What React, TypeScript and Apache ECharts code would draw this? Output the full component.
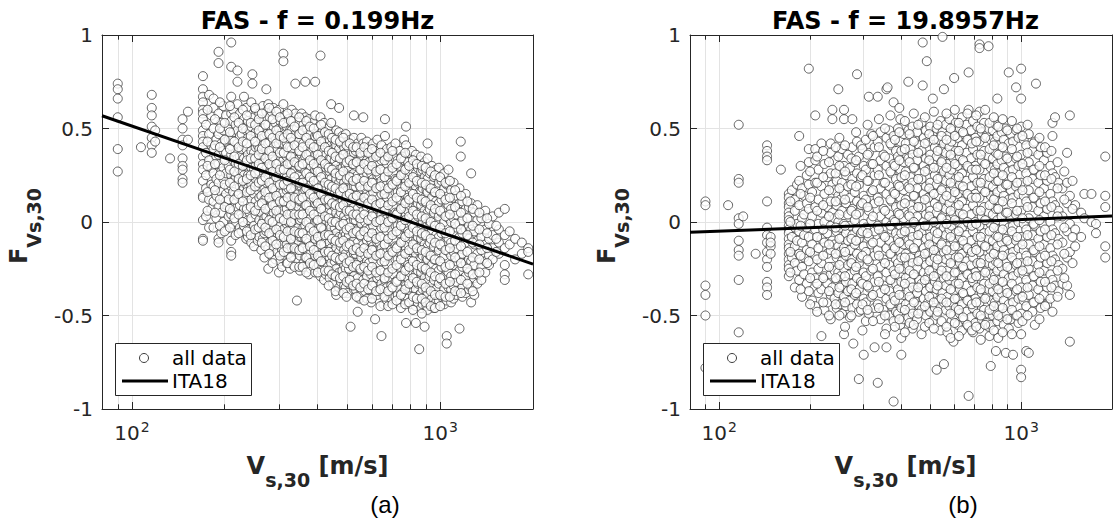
import React, { useEffect, useRef } from "react";
import * as echarts from "echarts";

// ---------- data (Vs in m/s, then F values in hundredths) ----------
const aLow = [
  [90, 74, 71, 66, 56, 39, 27],
  [107, 40],
  [116, 68, 61, 57, 51, 45, 41, 37],
  [119, 49, 43],
  [133, 34],
  [146, 55, 50, 44, 41, 34, 30, 28, 23, 21],
  [152, 59, 44],
  [170, 78, 71, 67, 64, 60, 58, 55, 49, 46, 43, 40, 35, 31, 28, 22, 14, 13, 1, -9, -10],
  [174, 52, 37, 25, 18, 3],
  [178, 68, 47, 33, 12, -3],
  [181, 57, 41, 29, 20, 7],
  [184, 66, 61, 50, 39, 26, 19, 11, -3],
  [188, 44, 35, 23, 14, 2],
  [191, 91, 85, 58, 47, 36, 31, 21, 8, -9, -11],
  [195, 53, 42, 27, 16, 5, -6],
  [198, 62, 49, 38, 29, 23, 13, 0],
];
const aMid1 = [
  [202, 57, 43, 37, 26, 15, 11, -4],
  [206, 50, 44, 30, 18, 12, 3],
  [210, 96, 83, 67, 58, 54, 44, 36, 25, 19, 4, -10, -16, -18],
  [213, 60, 48, 33, 22, 16, 6, -1],
  [217, 52, 37, 31, 24, 10, 0, -7],
  [220, 81, 75, 63, 49, 42, 34, 26, 14, 8],
  [224, 58, 46, 35, 28, 19, 9, -3],
  [227, 47, 39, 26, 21, 13, 2, -5],
  [231, 67, 55, 41, 34, 25, 18, 7, -2],
  [235, 61, 49, 39, 32, 20, 14, 4, -9],
  [238, 54, 45, 36, 25, 18, 10, 1, -8],
  [241, 49, 42, 30, 23, 16, 5, -4],
  [244, 64, 51, 38, 29, 20, 12, 2, -11],
  [246, 79, 74],
  [249, 56, 44, 37, 28, 15, 8, -2, -13],
  [252, 60, 48, 40, 30, 23, 11, 4, -7],
  [256, 53, 41, 33, 26, 17, 6, -4, -10],
  [259, 58, 47, 39, 27, 19, 13, 1, -8],
  [263, 51, 44, 34, 23, 14, 5, -3, -15],
  [266, 62, 50, 41, 31, 20, 9, 0, -9],
  [269, 55, 46, 36, 28, 18, 12, 2, -6, -19],
  [273, 71, 59, 47, 39, 30, 21, 13, 3, -5],
  [277, 63, 52, 42, 33, 23, 16, 6, -2, -14, -25],
  [280, 56, 43, 35, 26, 17, 8, -1, -11],
  [284, 59, 49, 38, 30, 20, 11, 3, -7, -18],
  [288, 61, 51, 40, 32, 22, 14, 5, -4, -13],
  [292, 53, 45, 33, 27, 17, 9, 0, -9, -20],
  [296, 57, 47, 39, 29, 21, 12, 3, -6, -16],
  [300, 60, 50, 42, 32, 24, 15, 6, -3, -12, -27],
  [303, 54, 44, 35, 25, 16, 7, -2, -10, -21],
  [307, 48, 38, 30, 22, 13, 4, -5, -15, -24],
  [310, 90, 86, 63, 52, 42, 33, 24, 16, 6, -4, -12],
  [314, 57, 47, 36, 30, 19, 11, 1, -9, -18],
  [318, 51, 42, 35, 24, 17, 7, -1, -12, -22],
  [322, 55, 46, 36, 28, 18, 10, 0, -8, -17],
  [326, 49, 40, 31, 22, 14, 4, -4, -14, -25],
  [330, 60, 49, 39, 31, 22, 12, 5, -4, -14],
  [334, 54, 43, 33, 26, 16, 7, -2, -11, -23],
  [339, 74, 58, 47, 35, 28, 18, 10, 1, -8, -16],
  [343, 50, 41, 31, 20, 13, 3, -6, -15, -42],
  [347, 53, 43, 34, 25, 15, 8, -3, -10, -21],
  [351, 47, 37, 29, 19, 11, 1, -8, -18, -26],
  [355, 58, 48, 36, 29, 19, 11, 2, -8, -15],
  [360, 52, 42, 33, 23, 16, 6, -3, -13, -22],
  [365, 75, 56, 46, 35, 27, 17, 9, -2, -9, -19],
  [370, 50, 39, 31, 22, 14, 3, -5, -15, -24],
  [375, 55, 47, 36, 27, 17, 9, 0, -11, -20, -28],
  [380, 48, 37, 30, 20, 12, 2, -7, -17, -25],
  [386, 53, 44, 34, 26, 15, 7, -2, -12, -21],
  [393, 75, 57, 46, 36, 28, 18, 10, 0, -9, -18, -27],
  [398, 47, 38, 29, 20, 11, 1, -6, -16, -24],
];
const aMid2 = [
  [404, 51, 40, 33, 22, 15, 5, -3, -14, -23],
  [409, 89, 56, 46, 35, 27, 16, 9, -2, -10, -19, -29],
  [414, 48, 37, 30, 19, 12, 1, -7, -17, -26],
  [420, 53, 44, 32, 25, 15, 7, -4, -12, -22, -31],
  [426, 46, 36, 29, 18, 11, 1, -9, -18, -28],
  [432, 50, 42, 30, 23, 12, 5, -6, -15, -24],
  [438, 44, 34, 27, 17, 9, -1, -11, -19, -30],
  [443, 63, 53, 41, 34, 23, 16, 5, -3, -14, -22],
  [449, 47, 39, 28, 20, 10, 2, -8, -16, -27, -33],
  [455, 43, 33, 26, 15, 8, -3, -11, -21, -29],
  [460, 49, 41, 30, 23, 12, 5, -6, -14, -25, -39],
  [466, 45, 35, 27, 16, 10, -1, -9, -20, -28],
  [470, 61, 48, 39, 28, 21, 10, 3, -8, -16, -27, -35],
  [476, 42, 34, 23, 16, 5, -2, -13, -21, -32],
  [482, 46, 36, 29, 18, 11, 0, -8, -18, -26, -37],
  [488, 40, 32, 21, 14, 3, -5, -15, -23, -34],
  [494, 47, 37, 30, 19, 12, 1, -7, -17, -25, -35],
  [500, 43, 35, 24, 17, 6, -1, -12, -20, -31, -38],
  [506, 39, 29, 22, 11, 4, -7, -14, -25, -33],
  [512, 44, 36, 25, 18, 7, 0, -11, -18, -30, -56],
  [518, 41, 31, 24, 13, 6, -5, -12, -23, -31],
  [525, 57, 45, 37, 26, 19, 8, 1, -10, -17, -29, -36],
  [532, 38, 30, 19, 12, 1, -6, -17, -24, -36],
  [540, 42, 32, 25, 14, 7, -4, -11, -22, -30, -48],
  [547, 39, 31, 20, 13, 2, -5, -16, -23, -35, -41],
  [555, 45, 35, 28, 17, 10, -1, -8, -19, -26, -38],
  [563, 56, 42, 31, 24, 13, 6, -5, -12, -23, -31],
  [571, 37, 29, 18, 11, 0, -7, -18, -25, -37],
  [579, 43, 33, 26, 15, 8, -3, -10, -21, -29, -41],
  [588, 40, 32, 21, 14, 3, -4, -15, -22, -34],
  [597, 36, 26, 19, 8, 1, -10, -17, -28, -36, -43],
  [606, 42, 34, 23, 16, 5, -2, -13, -20, -32],
  [615, 38, 28, 21, 10, 3, -8, -15, -26, -34, -52],
  [625, 44, 36, 25, 18, 7, 0, -11, -18, -30, -39],
  [635, 35, 25, 18, 7, 0, -11, -18, -29, -37],
  [645, 41, 33, 22, 15, 4, -3, -14, -21, -33, -61],
  [655, 37, 27, 20, 9, 2, -9, -16, -27, -35, -44],
  [662, 55, 46, 35, 24, 17, 6, -1, -12, -19, -31],
  [672, 39, 31, 20, 13, 2, -5, -16, -23, -35, -42],
  [683, 34, 24, 17, 6, -1, -12, -19, -30, -38],
  [694, 40, 32, 21, 14, 3, -4, -15, -22, -34, -41],
  [705, 36, 26, 19, 8, 1, -10, -17, -28, -36],
  [716, 42, 34, 23, 16, 5, -2, -13, -20, -32, -40],
  [728, 33, 23, 16, 5, -2, -13, -20, -31, -39],
  [740, 38, 30, 19, 12, 1, -6, -17, -24, -36, -43],
  [752, 35, 25, 18, 7, 0, -11, -18, -29, -38],
  [764, 44, 33, 26, 15, 8, -3, -10, -21, -29, -40],
  [775, 51, 41, 29, 22, 11, 4, -7, -14, -25, -34, -54],
  [787, 32, 24, 13, 6, -5, -12, -23, -30, -41],
  [798, 37, 27, 20, 9, 2, -9, -16, -27, -35, -44],
];
const aHigh = [
  [810, 38, 28, 21, 10, 3, -8, -15, -26, -33, -42],
  [822, 31, 23, 12, 5, -6, -13, -24, -31, -40],
  [834, 36, 26, 19, 8, 1, -10, -17, -28, -36, -45, -54],
  [846, 29, 21, 10, 3, -8, -15, -26, -33, -43],
  [855, 33, 23, 16, 5, -2, -13, -20, -31, -39, -68],
  [867, 35, 27, 16, 9, -2, -9, -20, -27, -38, -46],
  [878, 28, 18, 11, 0, -7, -18, -25, -36, -44],
  [890, 32, 24, 13, 6, -5, -12, -23, -30, -42, -56],
  [903, 27, 17, 10, -1, -8, -19, -26, -37, -45],
  [910, 42, 34, 23, 16, 5, -2, -13, -20, -32, -39, -47],
  [925, 26, 18, 7, 0, -11, -18, -29, -36, -44],
  [940, 30, 20, 13, 2, -5, -16, -23, -34, -41],
  [955, 24, 16, 5, -2, -13, -20, -31, -38, -46],
  [970, 28, 18, 11, 0, -7, -18, -25, -36, -43],
  [990, 29, 21, 10, 3, -8, -15, -26, -33, -42],
  [1010, 22, 12, 5, -6, -13, -24, -31, -40],
  [1030, 26, 18, 7, 0, -11, -18, -29, -36, -44],
  [1050, 20, 10, 3, -8, -15, -26, -33, -42, -61, -65],
  [1064, 28, 20, 9, 2, -9, -16, -27, -35],
  [1085, 17, 7, 0, -11, -18, -29, -36, -43],
  [1105, 21, 13, 2, -5, -16, -23, -34, -41],
  [1130, 14, 4, -3, -14, -21, -32, -39],
  [1155, 18, 10, -1, -8, -19, -26, -37, -57],
  [1166, 43, 35],
  [1180, 11, 1, -6, -17, -24, -35, -40],
  [1210, 15, 7, -4, -11, -22, -29, -38],
  [1240, 8, -2, -9, -20, -27, -36],
  [1260, 26, 10, -4, -21, -35, -43],
  [1290, 5, -5, -12, -23, -30, -39],
  [1320, 9, 1, -10, -17, -28, -33],
  [1360, 2, -8, -15, -24, -31],
  [1400, 6, -4, -12, -21, -27],
  [1440, -1, -9, -18, -23],
  [1480, 3, -7, -14, -20],
  [1550, 5, -4, -11, -17],
  [1620, 7, -7, -14, -23, -28, -31],
  [1680, -5, -12],
  [1750, -9, -20],
  [1840, -11, -17],
  [1930, -14, -16, -28],
];
const aFill = [
  [176, 60, 43, 30, 16, 6],
  [186, 55, 41, 31, 17, 5],
  [193, 64, 50, 40, 25, 12, -2],
  [200, 53, 44, 33, 20, 8, -5],
  [208, 62, 48, 39, 28, 21, 7, -3],
  [215, 56, 43, 35, 27, 19, 12, 2],
  [222, 53, 40, 31, 23, 15, 4, -6],
  [229, 60, 50, 43, 30, 22, 11, 0],
  [236, 57, 42, 33, 23, 16, 7, -5],
  [243, 53, 46, 34, 25, 17, 8, -7],
  [251, 61, 52, 43, 34, 26, 19, 6, -4],
  [258, 55, 49, 36, 31, 21, 9, -3],
  [264, 58, 46, 39, 29, 22, 10, -1, -11],
  [271, 52, 42, 34, 24, 16, 7, -3, -13],
  [279, 61, 47, 38, 31, 21, 13, 1, -6, -17],
  [286, 55, 45, 35, 27, 18, 9, 0, -10, -22],
  [294, 59, 49, 42, 31, 24, 14, 6, -4, -12],
  [302, 56, 46, 37, 28, 20, 11, 2, -7, -18],
  [311, 53, 45, 37, 28, 20, 11, 1, -8, -16],
  [320, 58, 47, 40, 31, 22, 13, 4, -5, -14, -22],
  [328, 54, 45, 35, 26, 18, 9, 0, -9, -19],
  [337, 51, 41, 32, 24, 13, 4, -5, -14, -24],
  [349, 56, 47, 38, 30, 21, 12, 4, -6, -15, -24],
  [358, 49, 40, 31, 21, 13, 4, -6, -14, -24],
  [368, 54, 45, 36, 26, 18, 9, 0, -9, -19, -27],
  [378, 51, 42, 33, 24, 15, 6, -3, -13, -22],
  [389, 50, 40, 31, 22, 13, 4, -5, -15, -23],
  [401, 46, 36, 27, 18, 10, 1, -8, -18, -27],
  [411, 52, 43, 33, 24, 15, 7, -3, -12, -21],
  [423, 48, 40, 31, 21, 12, 3, -7, -16, -26],
  [435, 47, 38, 29, 20, 12, 2, -7, -16, -26, -34],
  [446, 45, 37, 28, 19, 10, 0, -9, -18, -28],
  [458, 44, 35, 26, 18, 9, 0, -10, -19, -29, -37],
  [473, 43, 34, 25, 16, 8, -2, -11, -20, -30],
  [485, 45, 36, 27, 18, 9, -1, -10, -19, -29, -38],
  [497, 41, 32, 23, 14, 6, -4, -13, -22, -32, -40],
  [509, 42, 33, 24, 15, 6, -3, -12, -21, -31],
  [522, 40, 31, 22, 13, 4, -6, -15, -24, -34],
  [536, 40, 32, 23, 14, 4, -5, -14, -23, -33, -40],
  [551, 37, 28, 19, 10, 2, -7, -16, -25, -35],
  [567, 40, 31, 22, 13, 4, -5, -14, -24, -33, -42],
  [584, 37, 28, 19, 10, 1, -8, -17, -26, -36],
  [601, 39, 30, 21, 12, 3, -6, -15, -24, -34, -41],
  [620, 35, 27, 18, 9, 0, -9, -18, -27, -37],
  [640, 37, 28, 19, 10, 1, -8, -17, -26, -36, -45],
  [660, 33, 24, 15, 6, -3, -12, -21, -30, -40],
  [678, 35, 27, 18, 9, 0, -9, -18, -27, -37, -45],
  [700, 38, 29, 20, 11, 2, -7, -16, -25, -35, -44],
  [722, 31, 22, 13, 4, -5, -14, -23, -32, -42],
  [746, 34, 25, 16, 7, -2, -11, -20, -29, -39, -46],
  [770, 37, 28, 19, 10, 1, -8, -17, -26, -36, -44],
  [793, 30, 21, 12, 3, -6, -15, -24, -33, -43],
  [816, 33, 24, 15, 6, -3, -12, -21, -30, -40, -47],
  [840, 31, 22, 13, 4, -5, -14, -23, -32, -41],
  [872, 30, 21, 12, 3, -6, -15, -24, -33, -41, -49],
  [897, 29, 20, 11, 2, -7, -16, -25, -35, -43],
  [932, 27, 18, 9, 0, -9, -18, -27, -37, -45],
  [962, 25, 16, 7, -2, -11, -20, -29, -39, -46],
  [1000, 24, 15, 6, -3, -12, -21, -30, -39, -45],
  [1040, 21, 12, 3, -6, -15, -24, -33, -40],
  [1075, 22, 13, 4, -5, -14, -23, -32, -40],
  [1118, 17, 8, -1, -10, -19, -28, -37],
  [1168, 14, 5, -4, -13, -22, -31, -38],
  [1225, 11, 2, -7, -16, -25, -33],
  [1275, 7, -2, -11, -19, -28, -37],
  [1340, 5, -4, -12, -20, -27],
  [1420, 2, -6, -14, -22],
  [1520, -2, -9, -16],
];

const bLow = [
  [90, 11, 9, -34, -39, -50, -78],
  [107, 9],
  [116, 52, 23, 21, 2, -1, -10, -15, -18, -31, -59],
  [120, 3],
  [132, -17],
  [144, 41, 38, 35, 33, 11, -3, -7, -11, -16, -20, -24, -32, -35, -39],
  [148, -8, -13, -17, -11],
  [160, 28],
  [170, 15, 13, 10, 8, 5, 3, 1, -2, -4, -6, -9, -12, -14, -17, -20, -23, -25, -29],
  [174, 17, -8, -19],
  [178, 12, 6, -3, -13, -22, -35],
  [181, 20, -1, -10, -26],
  [184, 46, 22, 9, -5, -17, -31],
  [188, 18, 2, -11, -24, -40],
  [191, 14, 4, -7, -19, -28],
  [195, 25, 10, -3, -15, -33],
  [198, 82, 39, 32, 20, 7, -8, -21, -37],
];
const bMid1 = [
  [203, 16, 3, -12, -27, -42],
  [208, 57, 39, 33, 21, 8, -4, -18, -30, -45],
  [213, 28, 12, -1, -14, -25, -38],
  [218, 42, 19, 5, -9, -22, -36, -61],
  [223, 31, 15, 0, -11, -29, -47],
  [228, 24, 8, -6, -17, -33, -43],
  [234, 42, 37, 26, 11, -2, -15, -28, -39, -52],
  [237, 60, 55, 20, 5, -10, -24, -35],
  [241, 33, 17, 2, -12, -26, -41],
  [245, 22, 9, -5, -19, -31, -46],
  [248, 71, 35, 14, 0, -13, -27, -38],
  [252, 28, 12, -3, -16, -29, -44],
  [255, 39, 21, 6, -8, -21, -34, -49],
  [259, 60, 55, 30, 15, -1, -14, -25, -40, -60],
  [263, 25, 10, -6, -18, -32, -45],
  [267, 36, 19, 4, -10, -23, -37],
  [271, 29, 13, -2, -15, -28, -42, -51],
  [276, 55, 40, 23, 7, -7, -20, -33, -46],
  [278, -65],
  [281, 32, 16, 1, -12, -26, -39],
  [286, 79, 43, 26, 11, -4, -17, -30, -44],
  [290, 35, 20, 5, -9, -22, -36, -48, -84],
  [295, 41, 24, 9, -6, -19, -32, -47],
  [301, 30, 14, -1, -13, -27, -41, -71],
  [306, 44, 28, 12, -3, -16, -29, -43, -53],
  [313, 67, 37, 22, 6, -8, -21, -35, -49],
  [319, 47, 31, 16, 1, -12, -26, -40],
  [327, 40, 25, 10, -5, -18, -32, -46, -67],
  [335, 67, 43, 28, 13, -2, -15, -29, -44, -86],
  [342, 48, 33, 18, 3, -11, -24, -38, -52],
  [350, 36, 21, 7, -7, -20, -34, -47],
  [358, 71, 45, 30, 15, 0, -14, -27, -41, -57, -67],
  [361, 72],
  [366, 49, 34, 19, 4, -10, -23, -37, -50],
  [372, 41, 26, 11, -4, -17, -31, -45],
  [378, 64, 46, 31, 16, 1, -13, -26, -40, -53, -96],
  [385, 38, 23, 8, -6, -20, -33, -48],
  [391, 50, 35, 20, 5, -9, -22, -36, -49],
  [398, 55, 43, 28, 13, -2, -16, -29, -43, -55],
];
const bMid2 = [
  [401, 38, 24, 9, -6, -19, -32, -46, -62, -71],
  [408, 47, 32, 17, 2, -12, -25, -39, -52],
  [415, 42, 27, 12, -3, -17, -30, -44],
  [423, 75, 49, 34, 19, 4, -10, -23, -37, -51],
  [430, 39, 24, 9, -5, -19, -32, -46],
  [437, 51, 36, 21, 6, -8, -22, -35, -49, -57],
  [444, 44, 29, 14, -1, -15, -28, -42],
  [452, 48, 33, 18, 3, -11, -25, -38, -52],
  [460, 41, 26, 11, -4, -18, -31, -45],
  [468, 53, 38, 23, 8, -6, -20, -33, -47, -60],
  [472, 96, 73],
  [476, 45, 30, 15, 0, -14, -27, -41],
  [484, 49, 34, 19, 4, -9, -23, -37, -50],
  [487, 86],
  [492, 43, 28, 13, -2, -16, -29, -43],
  [500, 51, 36, 21, 6, -8, -21, -35, -48],
  [510, 66, 46, 31, 16, 1, -13, -26, -40, -53],
  [518, 40, 25, 10, -5, -19, -32, -46],
  [525, 50, 35, 20, 5, -9, -23, -36, -50, -79],
  [533, 44, 29, 14, -1, -14, -28, -42],
  [541, 54, 39, 24, 9, -5, -18, -32, -45, -58],
  [549, 99, 48, 33, 18, 3, -11, -24, -38],
  [555, 71, 42, 27, 12, -3, -16, -30, -43, -76],
  [563, 52, 37, 22, 7, -7, -20, -34, -47],
  [570, 46, 31, 16, 1, -13, -26, -40, -59],
  [579, 55, 40, 25, 10, -4, -18, -31, -45],
  [588, 43, 28, 13, -2, -15, -29, -43, -53],
  [597, 49, 34, 19, 4, -10, -23, -37, -50, -64],
  [600, 77],
  [607, 53, 38, 23, 8, -6, -19, -33, -46],
  [617, 45, 30, 15, 0, -13, -27, -41, -55],
  [627, 50, 35, 20, 5, -8, -22, -36, -49],
  [637, 56, 41, 26, 11, -3, -17, -30, -44, -58],
  [647, 47, 32, 17, 2, -12, -25, -39, -52],
  [658, 52, 37, 22, 7, -7, -21, -34, -48],
  [670, 80, 60, 44, 29, 14, -1, -15, -28, -42, -56, -93],
  [682, 49, 34, 19, 4, -10, -23, -37, -51],
  [693, 54, 39, 24, 9, -5, -19, -32, -46, -59],
  [705, 45, 30, 15, 0, -14, -27, -41, -54],
  [716, 51, 36, 21, 6, -8, -22, -35, -49],
  [728, 95, 93, 59, 43, 28, 13, -2, -16, -29, -43, -57],
  [741, 48, 33, 18, 3, -11, -24, -38, -52],
  [754, 53, 38, 23, 8, -6, -20, -33, -47],
  [767, 46, 31, 16, 1, -13, -26, -40, -54],
  [780, 94, 50, 35, 20, 5, -9, -22, -36, -49, -56],
  [793, 44, 29, 14, -1, -15, -28, -42, -55, -77],
];
const bHigh = [
  [806, 49, 34, 19, 4, -10, -23, -37, -50],
  [819, 43, 28, 13, -2, -16, -29, -43],
  [825, 52, 37, 22, 7, -7, -21, -34, -48, -69],
  [834, 66, 46, 31, 16, 1, -13, -26, -40, -53],
  [848, 41, 26, 11, -4, -18, -31, -45],
  [862, 48, 33, 18, 3, -11, -24, -38, -51],
  [876, 44, 29, 14, -1, -15, -28, -42, -55],
  [890, 50, 35, 20, 5, -9, -22, -36, -49, -70],
  [910, 80, 42, 27, 12, -3, -17, -30, -44, -57],
  [925, 47, 32, 17, 2, -12, -25, -39, -52],
  [940, 43, 28, 13, -2, -16, -29, -43, -71],
  [962, 72, 49, 34, 19, 4, -10, -23, -37, -50],
  [980, 45, 30, 15, 0, -14, -27, -41, -54],
  [1000, 82, 66, 51, 36, 21, 6, -8, -22, -35, -49, -60, -79, -83],
  [1020, 44, 29, 14, -1, -15, -28, -42],
  [1040, 41, 26, 11, -4, -18, -31, -45, -69],
  [1060, 47, 32, 17, 2, -12, -25, -39, -70],
  [1090, 38, 23, 8, -7, -21, -34, -48],
  [1110, 43, 28, 13, -2, -16, -29, -43, -55],
  [1120, 74],
  [1140, 36, 21, 6, -9, -23, -36],
  [1160, 40, 25, 10, -5, -19, -32, -46],
  [1190, 33, 18, 3, -12, -26, -39],
  [1220, 37, 22, 7, -8, -22, -35, -44],
  [1250, 30, 15, 0, -14, -28, -41],
  [1270, 53, 46, 26, 11, -4, -18, -31, -48],
  [1295, 56, 24, 9, -6, -20, -34],
  [1330, 21, 6, -9, -23, -37],
  [1370, 18, 3, -11, -25, -33],
  [1420, 37, 21, 10, -5, -19, -34],
  [1450, 57, 14, -1, -16, -39, -64],
  [1510, 9, -4, -13],
  [1580, 5, -8],
  [1620, 15, 2],
  [1710, 15, 0],
  [1770, -1, -6],
  [1900, 35, 14, 8, -13, -19],
];
const bFill = [
  [172, 11, 0, -16, -27],
  [186, 30, 15, -2, -18, -36],
  [200, 27, 13, -1, -16, -30, -44],
  [211, 35, 21, 6, -8, -20, -33, -48],
  [221, 38, 24, 9, -4, -18, -30, -43],
  [231, 32, 17, 3, -12, -24, -37, -50],
  [243, 40, 26, 11, -3, -17, -30, -44],
  [250, 45, 30, 18, 4, -9, -23, -35, -50],
  [261, 41, 27, 12, -2, -16, -29, -43, -56],
  [274, 34, 20, 6, -9, -22, -36, -50],
  [284, 48, 33, 19, 4, -10, -24, -38],
  [298, 39, 25, 10, -5, -18, -33, -44, -58],
  [310, 52, 36, 22, 8, -6, -20, -34, -47],
  [323, 46, 31, 17, 3, -11, -25, -39, -53],
  [338, 55, 40, 25, 11, -4, -18, -32, -46],
  [354, 50, 35, 21, 6, -8, -22, -36, -50, -60],
  [369, 57, 42, 27, 12, -2, -17, -31, -44],
  [382, 44, 30, 15, 0, -14, -28, -42, -56],
  [395, 61, 48, 33, 19, 4, -11, -25, -39, -52],
  [412, 54, 39, 25, 10, -5, -19, -33, -47, -59],
  [427, 47, 32, 18, 3, -12, -26, -40, -54],
  [441, 58, 43, 29, 14, 0, -14, -28, -43, -55],
  [456, 52, 37, 23, 8, -7, -21, -35, -49],
  [480, 56, 42, 27, 12, -2, -17, -31, -45, -56],
  [496, 47, 33, 18, 3, -12, -26, -40, -54],
  [514, 59, 44, 29, 15, 0, -15, -29, -43, -57],
  [529, 52, 38, 23, 8, -6, -20, -34, -48],
  [545, 46, 32, 17, 2, -12, -26, -41, -53],
  [566, 58, 44, 29, 14, -1, -15, -29, -43, -56],
  [584, 50, 36, 21, 6, -8, -22, -36, -49, -62],
  [603, 60, 46, 31, 16, 1, -13, -27, -41, -54],
  [622, 53, 38, 24, 9, -5, -19, -33, -47, -61],
  [642, 48, 33, 19, 4, -10, -24, -38, -51],
  [664, 58, 44, 30, 15, 0, -14, -28, -42, -55],
  [687, 42, 28, 13, -2, -16, -30, -44, -58],
  [710, 57, 43, 28, 13, -1, -15, -29, -43, -56],
  [735, 50, 36, 21, 6, -8, -22, -36, -50, -63],
  [760, 60, 45, 31, 16, 1, -13, -27, -41, -55],
  [786, 53, 39, 24, 9, -5, -19, -33, -47, -61],
  [812, 56, 41, 26, 12, -3, -17, -31, -45, -58],
  [840, 51, 36, 22, 7, -8, -22, -36, -50, -62],
  [869, 55, 40, 25, 11, -4, -18, -32, -46, -59],
  [900, 49, 34, 20, 5, -10, -24, -38, -52],
  [932, 54, 39, 24, 10, -5, -19, -33, -47, -60],
  [970, 50, 35, 21, 6, -8, -22, -36, -50],
  [1010, 46, 31, 17, 2, -12, -26, -40, -53],
  [1050, 52, 37, 22, 8, -7, -21, -35, -50],
  [1100, 42, 28, 13, -1, -15, -29, -43],
  [1150, 45, 30, 16, 1, -13, -27, -41, -52],
  [1200, 40, 25, 11, -4, -18, -32, -45],
  [1260, 38, 23, 8, -7, -21, -35],
  [1320, 32, 18, 3, -12, -26, -40],
  [1390, 27, 12, -3, -17, -30],
  [1480, 22, 7, -8, -22],
];

// ITA18 model lines (end points at the axis limits)
const itaA = [[80, 0.568], [2000, -0.225]];
const itaB = [[80, -0.055], [2000, 0.032]];

const xMin = 80;
const xMax = 2000;
const minorX = [90, 200, 300, 400, 500, 600, 700, 800, 900];
const titles = ["FAS - f = 0.199Hz", "FAS - f = 19.8957Hz"];
const tags = ["(a)", "(b)"];
const legendNames = ["all data", "ITA18"];

// ---------- layout ----------
const FONT = "DejaVu Sans";
const AX = "#262626";
const GRIDC = "#e3e3e3";
const MARK_EDGE = "#3c3c3c";
const PLOT_TOP = 35;
const PLOT_W = 431;
const PLOT_H = 374;
const lefts = [102, 690];
const tagXs = [385, 963];

function toPoints(groups: number[][][]) {
  const out: number[][] = [];
  groups.forEach((rows) =>
    rows.forEach((r) => {
      for (let i = 1; i < r.length; i++) out.push([r[0], r[i] / 100]);
    })
  );
  return out;
}

const pointsA = toPoints([aLow, aMid1, aMid2, aHigh, aFill]);
const pointsB = toPoints([bLow, bMid1, bMid2, bHigh, bFill]);

function buildOption() {
  const panels = [
    { pts: pointsA, ita: itaA },
    { pts: pointsB, ita: itaB },
  ];
  const grid: any[] = [];
  const xAxis: any[] = [];
  const yAxis: any[] = [];
  const series: any[] = [];
  const graphic: any[] = [];

  panels.forEach((p, i) => {
    const L = lefts[i];
    grid.push({ left: L, top: PLOT_TOP, width: PLOT_W, height: PLOT_H, show: false });
    const xBase = {
      type: "log",
      logBase: 10,
      gridIndex: i,
      min: xMin,
      max: xMax,
      axisLine: { show: true, onZero: false, lineStyle: { color: AX, width: 1 } },
      axisTick: { show: true, inside: true, length: 7, lineStyle: { color: AX } },
    };
    xAxis.push({
      ...xBase,
      position: "bottom",
      axisLabel: {
        margin: 11,
        color: AX,
        formatter: (v: number) => {
          const lg = Math.log10(v);
          const r = Math.round(lg);
          if (Math.abs(lg - r) < 1e-6) return `{b|10}{p|${r}}`;
          return "";
        },
        rich: {
          b: { fontSize: 20, fontFamily: FONT, color: AX },
          p: { fontSize: 14, fontFamily: FONT, color: AX, padding: [0, 0, 12, 1] },
        },
      },
      splitLine: { show: true, showMinLine: false, showMaxLine: false, lineStyle: { color: GRIDC, width: 1 } },
    });
    xAxis.push({
      ...xBase,
      position: "top",
      axisLabel: { show: false },
      splitLine: { show: false },
    });
    const yBase = {
      type: "value",
      gridIndex: i,
      min: -1,
      max: 1,
      interval: 0.5,
      axisLine: { show: true, onZero: false, lineStyle: { color: AX, width: 1 } },
      axisTick: { show: true, inside: true, length: 7, lineStyle: { color: AX } },
    };
    yAxis.push({
      ...yBase,
      position: "left",
      axisLabel: { margin: 9, color: AX, fontSize: 20, fontFamily: FONT },
      splitLine: { show: true, showMinLine: false, showMaxLine: false, lineStyle: { color: GRIDC, width: 1 } },
    });
    yAxis.push({
      ...yBase,
      position: "right",
      axisLabel: { show: false },
      splitLine: { show: false },
    });

    const xi = i * 2;
    const yi = i * 2;
    // minor x grid lines
    series.push({
      type: "line",
      xAxisIndex: xi,
      yAxisIndex: yi,
      data: [],
      silent: true,
      markLine: {
        silent: true,
        z: 1,
        symbol: ["none", "none"],
        label: { show: false },
        emphasis: { disabled: true },
        lineStyle: { color: GRIDC, type: "solid", width: 1 },
        data: minorX.map((v) => ({ xAxis: v })),
      },
    });
    // minor ticks (bottom and top)
    const tickSegs: any[] = [];
    minorX.forEach((v) => {
      tickSegs.push([{ coord: [v, -1] }, { coord: [v, -0.975] }]);
      tickSegs.push([{ coord: [v, 1] }, { coord: [v, 0.975] }]);
    });
    series.push({
      type: "line",
      xAxisIndex: xi,
      yAxisIndex: yi,
      data: [],
      silent: true,
      markLine: {
        silent: true,
        z: 1,
        symbol: ["none", "none"],
        label: { show: false },
        emphasis: { disabled: true },
        lineStyle: { color: AX, type: "solid", width: 1 },
        data: tickSegs,
      },
    });
    series.push({
      type: "scatter",
      name: legendNames[0],
      xAxisIndex: xi,
      yAxisIndex: yi,
      data: p.pts,
      symbol: "circle",
      symbolSize: 9,
      silent: true,
      z: 2,
      itemStyle: { color: "#ffffff", borderColor: MARK_EDGE, borderWidth: 1 },
    });
    series.push({
      type: "line",
      name: legendNames[1],
      xAxisIndex: xi,
      yAxisIndex: yi,
      data: p.ita,
      symbol: "none",
      showSymbol: false,
      silent: true,
      z: 3,
      lineStyle: { color: "#000000", width: 3 },
    });

    const cx = L + PLOT_W / 2;
    // title
    graphic.push({
      type: "text",
      x: cx,
      y: 21,
      z: 100,
      style: {
        text: titles[i],
        fontSize: 24,
        fontWeight: "bold",
        fontFamily: FONT,
        fill: "#000",
        align: "center",
        verticalAlign: "middle",
      },
    });
    // x label
    graphic.push({
      type: "text",
      x: cx,
      y: 466,
      z: 100,
      style: {
        text: "{m|V}{s|s,30}{m| [m/s]}",
        align: "center",
        verticalAlign: "middle",
        rich: {
          m: { fontSize: 24, fontWeight: "bold", fontFamily: FONT, fill: "#262626" },
          s: { fontSize: 19, fontWeight: "bold", fontFamily: FONT, fill: "#262626", padding: [28, 0, 0, 0] },
        },
      },
    });
    // y label
    graphic.push({
      type: "text",
      x: L - 83,
      y: 226,
      rotation: Math.PI / 2,
      z: 100,
      style: {
        text: "{m|F}{s|Vs,30}",
        align: "center",
        verticalAlign: "middle",
        rich: {
          m: { fontSize: 24, fontWeight: "bold", fontFamily: FONT, fill: "#262626" },
          s: { fontSize: 19, fontWeight: "bold", fontFamily: FONT, fill: "#262626", padding: [30, 0, 0, 0] },
        },
      },
    });
    // panel tag
    graphic.push({
      type: "text",
      x: tagXs[i],
      y: 504,
      z: 100,
      style: {
        text: tags[i],
        fontSize: 24,
        fontFamily: "Liberation Sans",
        fill: "#000",
        align: "center",
        verticalAlign: "middle",
      },
    });
    // legend
    const lx = L + 13;
    graphic.push({
      type: "group",
      z: 100,
      children: [
        {
          type: "rect",
          z: 100,
          shape: { x: lx + 0.5, y: 343.5, width: 136, height: 52 },
          style: { fill: "#ffffff", stroke: "#262626", lineWidth: 1 },
        },
        {
          type: "circle",
          z: 101,
          shape: { cx: lx + 29, cy: 358, r: 4.5 },
          style: { fill: "#ffffff", stroke: MARK_EDGE, lineWidth: 1 },
        },
        {
          type: "line",
          z: 101,
          shape: { x1: lx + 7, y1: 381, x2: lx + 53, y2: 381 },
          style: { stroke: "#000", lineWidth: 3 },
        },
        {
          type: "text",
          z: 101,
          x: lx + 57,
          y: 358,
          style: { text: legendNames[0], fontSize: 20, fontFamily: FONT, fill: "#000", verticalAlign: "middle" },
        },
        {
          type: "text",
          z: 101,
          x: lx + 57,
          y: 381,
          style: { text: legendNames[1], fontSize: 20, fontFamily: FONT, fill: "#000", verticalAlign: "middle" },
        },
      ],
    });
  });

  return {
    animation: false,
    backgroundColor: "#ffffff",
    grid,
    xAxis,
    yAxis,
    series,
    graphic,
  };
}

export default function App() {
  const ref = useRef<HTMLDivElement>(null);
  useEffect(() => {
    if (!ref.current) return;
    const chart = echarts.init(ref.current, undefined, { renderer: "svg" });
    chart.setOption(buildOption() as any);
    return () => chart.dispose();
  }, []);
  return (
    <div
      style={{
        position: "fixed",
        left: 0,
        top: 0,
        width: 1115,
        height: 520,
        overflow: "hidden",
        background: "#fff",
      }}
    >
      <div ref={ref} style={{ width: 1115, height: 520 }} />
    </div>
  );
}
